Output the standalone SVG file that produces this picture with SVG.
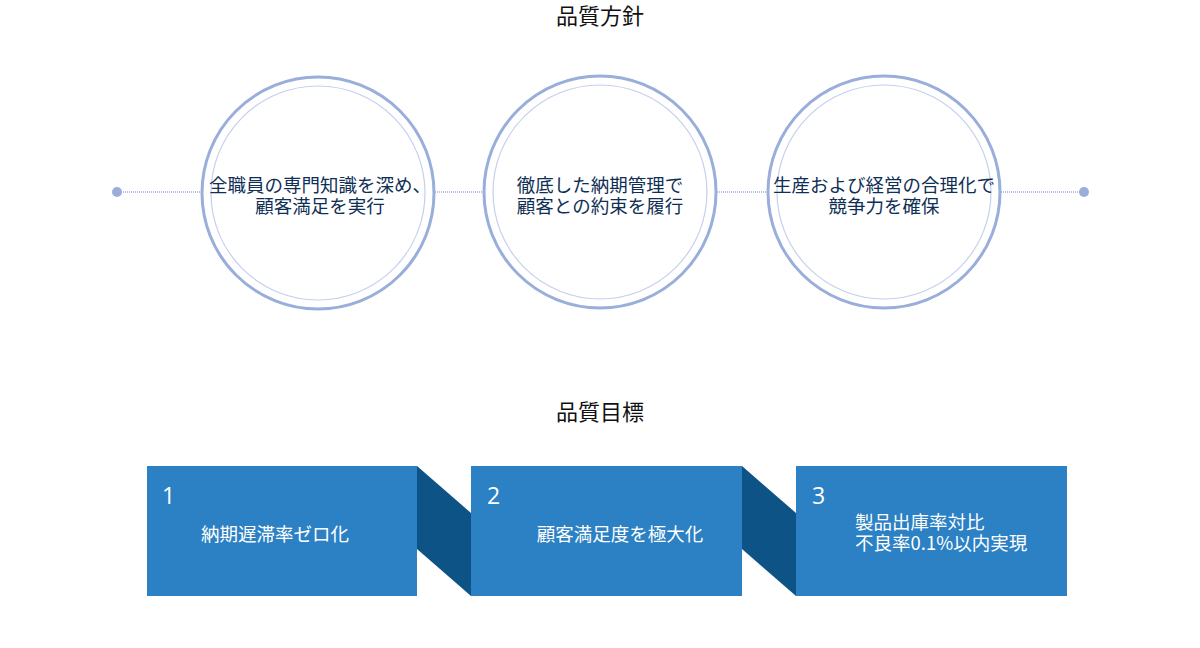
<svg xmlns="http://www.w3.org/2000/svg" width="1200" height="648" viewBox="0 0 1200 648">
<style>
.t{font-family:"Noto Sans CJK JP","Noto Sans",sans-serif;}
.title{font-size:22px;fill:#111;text-anchor:middle;}
.ct{font-size:18.5px;fill:#0f2f55;text-anchor:middle;}
.outer{fill:#fff;stroke:#9aaedb;stroke-width:3;}
.inner{fill:none;stroke:#c3cfec;stroke-width:1.2;}
.box{fill:#2b81c4;}
.conn{fill:#0e5386;}
.num{font-family:"Open Sans","Noto Sans",sans-serif;font-size:23px;fill:#fff;}
.bt{font-size:18.5px;fill:#fff;}
</style>
<rect width="1200" height="648" fill="#fff"/>
<text class="t title" x="600" y="24">品質方針</text>
<text class="t title" x="600" y="420">品質目標</text>
<g id="connectors">
<line x1="117" y1="192" x2="1084" y2="192" stroke="#9aaedb" stroke-width="1.5" stroke-dasharray="1 1"/>
<circle cx="117" cy="192" r="5" fill="#9aaedb"/>
<circle cx="1084" cy="192" r="5" fill="#9aaedb"/>
<polygon class="conn" points="417,466 471,513 471,596 417,549"/>
<polygon class="conn" points="742,466 796,513 796,596 742,549"/>
</g>
<g id="policy1">
<circle class="outer" cx="318" cy="193" r="116"/>
<circle class="inner" cx="318" cy="193" r="107"/>
<text class="t ct"><tspan x="320" y="192">全職員の専門知識を深め、</tspan><tspan x="320" y="213">顧客満足を実行</tspan></text>
</g>
<g id="policy2">
<circle class="outer" cx="600" cy="192" r="116"/>
<circle class="inner" cx="600" cy="192" r="107"/>
<text class="t ct"><tspan x="600" y="192">徹底した納期管理で</tspan><tspan x="600" y="213">顧客との約束を履行</tspan></text>
</g>
<g id="policy3">
<circle class="outer" cx="884" cy="192" r="116"/>
<circle class="inner" cx="884" cy="192" r="107"/>
<text class="t ct"><tspan x="884" y="192">生産および経営の合理化で</tspan><tspan x="884" y="213">競争力を確保</tspan></text>
</g>
<g id="goal1">
<rect class="box" x="147" y="466" width="270" height="130"/>
<text class="num" x="162" y="504">1</text>
<text class="t bt" x="275" y="541" text-anchor="middle">納期遅滞率ゼロ化</text>
</g>
<g id="goal2">
<rect class="box" x="471" y="466" width="271" height="130"/>
<text class="num" x="487" y="504">2</text>
<text class="t bt" x="620" y="541" text-anchor="middle">顧客満足度を極大化</text>
</g>
<g id="goal3">
<rect class="box" x="796" y="466" width="271" height="130"/>
<text class="num" x="812" y="504">3</text>
<text class="t bt"><tspan x="855" y="529">製品出庫率対比</tspan><tspan x="855" y="550">不良率0.1%以内実現</tspan></text>
</g>
</svg>
